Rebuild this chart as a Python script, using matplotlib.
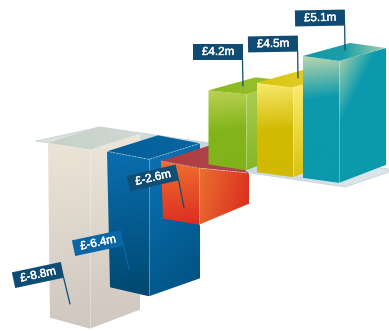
import numpy as np
import matplotlib
matplotlib.use("Agg")
import matplotlib.pyplot as plt
import matplotlib.patheffects as pe
from matplotlib.colors import LinearSegmentedColormap, to_rgb
from matplotlib.patches import Polygon

plt.rcParams['font.family'] = ['Liberation Sans', 'DejaVu Sans']

# Values in £m, one per column
values = [-8.8, -6.4, -2.6, 4.2, 4.5, 5.1]
labels = [f"£{v}m" for v in values]

# Oblique projection layout, one entry per column
slots = [0, 1.18, 2.18, 3.12, 4.06, 4.98]
rows = [-2, 0, 2.5, -1, 0, 0]
unit_height = [20.3, 21.4, 21.8, 18.1, 20.0, 23.9]
front_width = [42, 42, 38, 37.5, 36, 36]
side_width = [50, 51, 50, 47, 47, 47]
top_rise = [16, 16, -5, 13, 13, 13]
far_rise = [19, 18, 21, 18, 18, 18]
near_rise = [7, 8, 7, 4, 4.5, 5]
foot_rise = [11, 9, 6, 6, 5, 5]
foot_inset = [2, 3, 2, 0, 0, 0]

# Gradient stops for the front face, the side face, and the side's direction
palette = [
    (["#ebe4d6", "#cfc7c0"], ["#ece5d8", "#cfc7c0"], 90),
    (["#0a6eb0", "#00486f"], ["#0c74b8", "#00507f"], 70),
    (["#f07030", "#dc2c20"], ["#ea7030", "#da2a1e"], 15),
    (["#bdd255", "#83b51b", "#80b31a"], ["#b0d055", "#7eb21c"], 80),
    (["#f9ea70", "#d2bb02", "#d0b900"], ["#fdf07e", "#d3bc02"], 80),
    (["#bcd6ae", "#0d9aac", "#0b99ac", "#0b99ac"],
     ["#bcd6ac", "#0c9bae", "#0b99ac", "#0b99ac"], 55),
]
top_stops = [
    ["#c6d2c6", "#cfd8d2"], ["#005f98", "#0a66a2"], ["#b23a40", "#a84a50"],
    ["#8cb81e", "#9cc233"], ["#d9c30c", "#e6d23c"],
    ["#129aa8", "#1a9fa8", "#a6d0b0"],
]

# Label boxes: centre x, centre y, tilt in degrees, fill, leader end
flags = [
    (38, 275, 12, "#0e4c74", (70, 304)),
    (98, 243, 12, "#0a66a6", (129, 269)),
    (153, 178, 13, "#104e76", (184, 208)),
    (218, 52, 0, "#0f4b72", (243, 86)),
    (273, 44, 1, "#0f4b72", (298, 78)),
    (320, 18, 1, "#0f4b72", (345, 50)),
]

fig = plt.figure(figsize=(3.89, 3.31), dpi=100, facecolor="white")
ax = fig.add_axes([0, 0, 1, 1])
ax.zcount = 1


def paint(points, stops, angle, alpha=1.0):
    """Fill a polygon with a linear gradient running along the given angle."""
    pts = np.asarray(points, float)
    x0, y0 = pts.min(axis=0)
    x1, y1 = pts.max(axis=0)
    u, v = np.meshgrid(np.linspace(0, 1, 80), np.linspace(0, 1, 120))
    a = np.radians(angle)
    t = u * np.cos(a) + v * np.sin(a)
    t = (t - t.min()) / (t.max() - t.min())
    cmap = LinearSegmentedColormap.from_list("g", [to_rgb(c) for c in stops])
    img = ax.imshow(cmap(t), extent=(x0, x1, y1, y0), aspect="auto",
                    interpolation="bilinear", alpha=alpha, zorder=ax.zcount)
    patch = Polygon(pts, closed=True, transform=ax.transData, fc="none", ec="none")
    ax.add_patch(patch)
    img.set_clip_path(patch)
    ax.zcount += 1


def outline(points, **kw):
    pts = np.asarray(points, float)
    ax.plot(pts[:, 0], pts[:, 1], zorder=ax.zcount, solid_capstyle="round", **kw)
    ax.zcount += 1


# Reference plane sitting at zero
plane = [(36, 141), (100, 127), (395, 170), (345, 187)]
paint(plane, ["#dfe4df", "#c3d5df", "#dfe7ec"], 10)
outline(plane + plane[:1], color="#c9d3da", lw=0.6)

for i, v in enumerate(values):
    cx = 90 + 50 * slots[i]
    cy = 152 + 6.2 * slots[i] + rows[i]
    drop = -v * unit_height[i]          # positive drop means below the plane
    w, d = front_width[i], side_width[i]
    top_y = cy if v < 0 else cy + drop
    foot_y = cy + drop if v < 0 else cy

    near_top = (cx - w, top_y - near_rise[i])
    corner_top = (cx, top_y)
    far_top = (cx + d, top_y - top_rise[i])
    back_top = (cx - w + d, top_y - near_rise[i] - (16 if v < 0 else 13))
    near_foot = (cx - w + foot_inset[i], foot_y - foot_rise[i])
    corner_foot = (cx, foot_y)
    far_foot = (cx + d, foot_y - far_rise[i])

    front_stops, side_stops, side_angle = palette[i]
    paint([near_top, corner_top, corner_foot, near_foot], front_stops, 88)
    paint([corner_top, far_top, far_foot, corner_foot], side_stops, side_angle)
    paint([near_top, corner_top, far_top, back_top], top_stops[i], 0)
    outline([corner_top, corner_foot], color="white", lw=0.5, alpha=0.45)
    if v < 0:
        outline([near_top, corner_top, far_top], color="white", lw=0.5,
                alpha=0.6, linestyle=(0, (3, 1.5)))

# Flag labels with their leader lines
for text, (fx, fy, tilt, fill, tip) in zip(labels, flags):
    a = np.radians(tilt)
    ex, ey = np.array([np.cos(a), -np.sin(a)]), np.array([np.sin(a), np.cos(a)])
    c = np.array([fx, fy], float)
    hw, hh = 25, 8
    box = [c - hw * ex - hh * ey, c + hw * ex - hh * ey,
           c + hw * ex + hh * ey, c - hw * ex + hh * ey]
    start = c + hw * ex + hh * ey - 0.5 * ex
    outline([start, tip], color=fill, lw=0.9)
    ax.add_patch(Polygon(box, closed=True, fc=fill, ec="none", zorder=ax.zcount))
    ax.zcount += 1
    ax.text(fx, fy, text, color="white", fontsize=8.4,
            ha="center", va="center", rotation=tilt, rotation_mode="anchor",
            zorder=ax.zcount,
            path_effects=[pe.withStroke(linewidth=0.3, foreground="white")])
    ax.zcount += 1

ax.set_xlim(0, 389)
ax.set_ylim(331, 0)
ax.axis("off")
fig.savefig("out.png", dpi=100, facecolor="white")
